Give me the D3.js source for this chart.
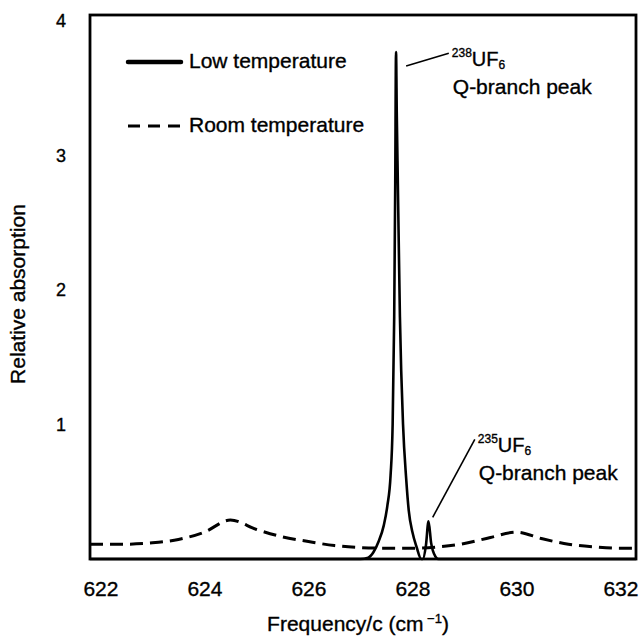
<!DOCTYPE html>
<html>
<head>
<meta charset="utf-8">
<script src="https://cdn.jsdelivr.net/npm/d3@7.9.0/dist/d3.min.js"></script>
<style>
  body { margin: 0; background: #fff; }
  svg { display: block; font-family: "Liberation Sans", Arial, sans-serif; }
  svg text { fill: #000; stroke: #000; stroke-width: 0.35px; }
</style>
</head>
<body>
<div id="chart"></div>
<script>
// frequency (cm^-1) and relative absorption
const lowTemp = [
  [621.8, 0], [627.0, 0], [627.15, 0.01], [627.25, 0.05], [627.35, 0.13],
  [627.45, 0.25], [627.52, 0.4], [627.58, 0.62], [627.62, 1.0], [627.65, 1.8],
  [627.67, 2.8], [627.685, 3.77], [627.70, 3.3], [627.72, 2.8], [627.76, 1.8],
  [627.82, 1.0], [627.88, 0.6], [627.93, 0.36], [628.0, 0.2], [628.08, 0.09],
  [628.17, 0.0], [628.2, 0.0], [628.26, 0.1], [628.31, 0.28], [628.36, 0.12],
  [628.44, 0.02], [628.5, 0], [632.3, 0]
];
const roomTemp = [
  [621.8, 0.11], [622.5, 0.11], [623.0, 0.12], [623.5, 0.145], [624.0, 0.2],
  [624.5, 0.29], [625.0, 0.22], [625.5, 0.165], [626.0, 0.13], [626.5, 0.1],
  [627.0, 0.085], [627.5, 0.08], [628.0, 0.08], [628.5, 0.09], [629.0, 0.115],
  [629.5, 0.16], [630.0, 0.2], [630.5, 0.15], [631.0, 0.11], [631.5, 0.09],
  [632.0, 0.08], [632.3, 0.08]
];
const xTicks = [622, 624, 626, 628, 630, 632];
const yTicks = [1, 2, 3, 4];
const seriesNames = ['Low temperature', 'Room temperature'];
// annotation anchors in data units: [freq, absorption] of the leader line ends
const peakNotes = [
  { mass: '238', from: [627.88, 3.665], to: [628.7, 3.76] },
  { mass: '235', from: [628.39, 0.31], to: [629.2, 0.89] }
];

const width = 643, height = 637;
const frame = { left: 90, right: 636, top: 15, bottom: 559 };

const svg = d3.select('#chart').append('svg')
  .attr('width', width).attr('height', height);

const x = d3.scaleLinear().domain([621.8, 632.3]).range([frame.left, frame.right]);
const y = d3.scaleLinear().domain([0, 4.045]).range([frame.bottom, frame.top]);

const line = d3.line()
  .x(d => x(d[0]))
  .y(d => y(d[1]))
  .curve(d3.curveMonotoneX);

// curves
svg.append('path')
  .datum(roomTemp)
  .attr('d', line)
  .attr('fill', 'none')
  .attr('stroke', '#000')
  .attr('stroke-width', 3)
  .attr('stroke-dasharray', '13,7');

svg.append('path')
  .datum(lowTemp)
  .attr('d', line)
  .attr('fill', 'none')
  .attr('stroke', '#000')
  .attr('stroke-width', 2.6)
  .attr('stroke-linejoin', 'round');

// frame
svg.append('rect')
  .attr('x', frame.left).attr('y', frame.top)
  .attr('width', frame.right - frame.left)
  .attr('height', frame.bottom - frame.top)
  .attr('fill', 'none')
  .attr('stroke', '#000')
  .attr('stroke-width', 2.8);

// axes
const xAxis = svg.append('g')
  .attr('transform', `translate(0,${frame.bottom})`)
  .call(d3.axisBottom(x).tickValues(xTicks).tickFormat(d3.format('d'))
    .tickSize(0).tickPadding(22));
xAxis.select('.domain').remove();
xAxis.selectAll('text').attr('font-size', 21).attr('font-family', null);

const yAxis = svg.append('g')
  .attr('transform', `translate(${frame.left},0)`)
  .call(d3.axisLeft(y).tickValues(yTicks).tickFormat(d3.format('d'))
    .tickSize(0).tickPadding(24));
yAxis.select('.domain').remove();
yAxis.selectAll('text').attr('font-size', 18).attr('font-family', null);

svg.append('text')
  .attr('transform', `translate(25,${y(1.97)}) rotate(-90)`)
  .attr('text-anchor', 'middle')
  .attr('font-size', 21)
  .text('Relative absorption');

const xt = svg.append('text')
  .attr('x', 358).attr('y', 631)
  .attr('text-anchor', 'middle')
  .attr('font-size', 21);
xt.append('tspan').text('Frequency/c (cm');
xt.append('tspan').attr('font-size', 13).attr('dy', -8).text(' \u22121');
xt.append('tspan').attr('dy', 8).text(')');

// legend
const legend = svg.append('g');
legend.append('line')
  .attr('x1', 128).attr('x2', 181).attr('y1', 62).attr('y2', 62)
  .attr('stroke', '#000').attr('stroke-width', 4.5).attr('stroke-linecap', 'round');
legend.append('line')
  .attr('x1', 128).attr('x2', 181).attr('y1', 126).attr('y2', 126)
  .attr('stroke', '#000').attr('stroke-width', 3).attr('stroke-dasharray', '12,8');
legend.selectAll('text')
  .data(seriesNames)
  .join('text')
  .attr('x', 189)
  .attr('y', (d, i) => 68 + i * 64)
  .attr('font-size', 21)
  .text(d => d);

// peak annotations
peakNotes.forEach(n => {
  svg.append('line')
    .attr('x1', x(n.from[0])).attr('y1', y(n.from[1]))
    .attr('x2', x(n.to[0])).attr('y2', y(n.to[1]))
    .attr('stroke', '#000').attr('stroke-width', 1.6);
  const tx = x(n.to[0]) + 3;
  const ty = y(n.to[1]) + 13;
  const t = svg.append('text').attr('x', tx).attr('y', ty).attr('font-size', 20);
  t.append('tspan').attr('font-size', 12).attr('dy', -9).text(n.mass);
  t.append('tspan').attr('dy', 9).text('UF');
  t.append('tspan').attr('font-size', 12).attr('dy', 3).text('6');
  svg.append('text')
    .attr('x', tx + 1).attr('y', ty + 28)
    .attr('font-size', 21)
    .text('Q-branch peak');
});
</script>
</body>
</html>
